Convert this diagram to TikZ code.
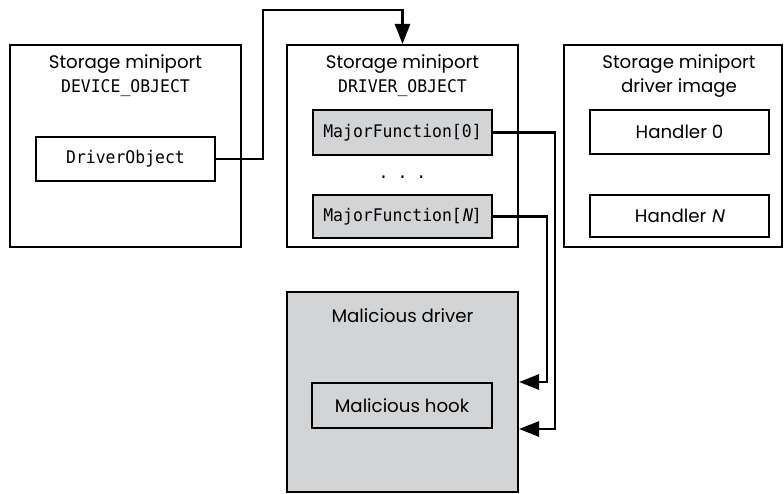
\documentclass[tikz,border=0pt]{standalone}
\usepackage{fontspec}
\setmainfont{Poppins}
\newfontfamily\monof{DejaVu Sans Mono}[FakeStretch=0.945]
\newfontfamily\monoitf{DejaVu Sans Mono}[FakeStretch=0.945,FakeSlant=0.2]
\newfontfamily\sansitf{Poppins}[FakeSlant=0.2]
\usetikzlibrary{arrows.meta}
\definecolor{boxgray}{RGB}{211,212,214}
\newcommand{\sansfs}{\fontsize{18.2}{21}\selectfont}
\newcommand{\monofs}{\monof\fontsize{17.4}{20}\selectfont}
\tikzset{
  outer/.style={draw, line width=2pt, inner sep=0pt, minimum width=231pt, minimum height=202pt},
  inbox/.style={draw, line width=2pt, inner sep=0pt, minimum width=179pt, minimum height=44pt},
  lbl/.style={anchor=base, inner sep=0pt, font=\sansfs},
  mlbl/.style={anchor=base, inner sep=0pt, font=\monofs},
  conn/.style={line width=2.5pt, -{Triangle[length=20pt,width=15pt]}}
}
\begin{document}
\begin{tikzpicture}[x=1pt,y=-1pt]
\useasboundingbox (0,0) rectangle (784,494);
% outer boxes
\node[outer] (dev) at (125.5,146) {};
\node[outer] (drv) at (402.5,146) {};
\node[outer, minimum width=218pt] (img) at (673,146) {};
\node[outer, fill=boxgray, minimum height=200pt] (mal) at (402.5,392) {};
% titles
\node[lbl] (devt1) at (125.5,69) {Storage miniport};
\node[mlbl] (devt2) at (125.5,93) {DEVICE\_OBJECT};
\node[lbl] (drvt1) at (402.5,69) {Storage miniport};
\node[mlbl] (drvt2) at (402.5,93) {DRIVER\_OBJECT};
\node[lbl] (imgt1) at (679,69) {Storage miniport};
\node[lbl] (imgt2) at (679,93) {driver image};
\node[lbl] (malt) at (402.5,322) {Malicious driver};
% inner boxes
\node[inbox, font=\monofs] (drvobj) at (125.5,159) {DriverObject};
\node[inbox, fill=boxgray, minimum height=45pt, font=\monofs] (mf0) at (402.5,132.5) {MajorFunction[0]};
\node[mlbl] (dots) at (402.5,179) {.\hspace{9pt}.\hspace{9pt}.};
\node[inbox, fill=boxgray, minimum height=43pt, font=\monofs] (mfN) at (402.5,216.5) {MajorFunction[{\monoitf N}]};
\node[inbox, font=\sansfs] (h0) at (679.5,132) {Handler 0};
\node[inbox, minimum height=42pt, font=\sansfs] (hN) at (679.5,216) {Handler {\sansitf N}};
\node[inbox, fill=boxgray, minimum width=180pt, minimum height=45pt, font=\sansfs] (hook) at (402,405.5) {Malicious hook};
% connectors
\coordinate (top) at (263,10);
\coordinate (r0) at (555,0);
\coordinate (r1) at (547,0);
\draw[conn] (drvobj.east) -| (top) -| (drv.north);
\draw[conn] (mf0.east) -| (r0 |- hook.south) -- (mal.east |- hook.south);
\draw[conn] (mfN.east) -| (r1 |- hook.north) -- (mal.east |- hook.north);
\end{tikzpicture}
\end{document}
